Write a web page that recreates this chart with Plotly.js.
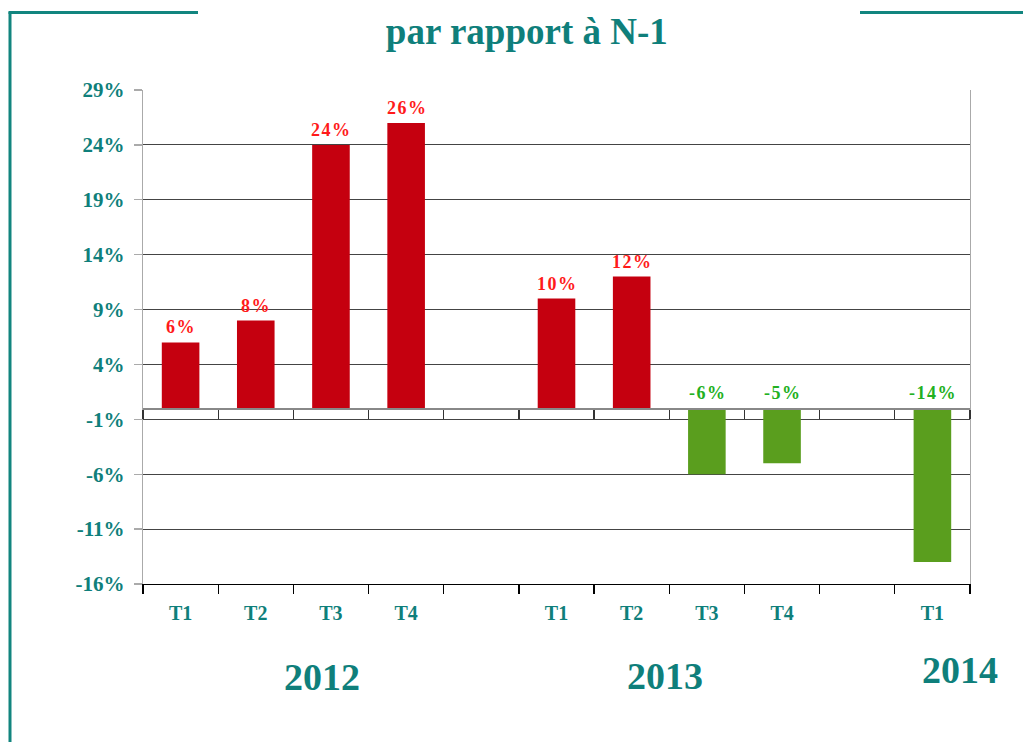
<!DOCTYPE html>
<html>
<head>
<meta charset="utf-8">
<script src="https://cdn.plot.ly/plotly-3.0.1.min.js"></script>
<style>html,body{margin:0;padding:0;background:#fff;}#chart{width:1023px;height:742px;}</style>
</head>
<body>
<div id="chart"></div>
<script>
// ---- data ----
const slots = [0, 1, 2, 3, 5, 6, 7, 8, 10];
const quarterLabels = ["T1", "T2", "T3", "T4", "T1", "T2", "T3", "T4", "T1"];
const values = [6, 8, 24, 26, 10, 12, -6, -5, -14];
const years = ["2012", "2013", "2014"];
const yTicks = [-16, -11, -6, -1, 4, 9, 14, 19, 24, 29];
const yTickText = yTicks.map(v => v + "%");

const teal = "#0f7f7b";
const serif = "Liberation Serif, Times New Roman, serif";

const barColors = values.map(v => v >= 0 ? "#c5000f" : "#5a9e1e");
const labelColors = values.map(v => v >= 0 ? "#ff1a1a" : "#22b022");
const labelY = values.map(v => Math.max(v, 0));
const labelText = values.map(v => (v + "%").split("").join("\u200A"));

const boundaries = [];
for (let i = -0.5; i <= 10.5; i += 1) boundaries.push(i);

// bars drawn on the axis that sits on the zero line (ticks at category boundaries)
const bars = {
  type: "bar", x: slots, y: values, width: 0.5, xaxis: "x3",
  marker: { color: barColors }, hoverinfo: "none", showlegend: false
};
// invisible carriers for the other two x axes
const carrierBottom = {
  type: "scatter", mode: "none", x: slots, y: labelY, xaxis: "x",
  hoverinfo: "none", showlegend: false
};
const carrierLabels = {
  type: "scatter", mode: "none", x: slots, y: labelY, xaxis: "x2",
  hoverinfo: "none", showlegend: false
};

const W = 827, H = 494, L = 143, T = 90;
const px = x => (x - L) / W;
const py = y => (T + H - y) / H;
const frameColor = "#12857f";

const valueAnnotations = slots.map((s, i) => ({
  x: s, y: labelY[i], xref: "x", yref: "y", text: "<b>" + labelText[i] + "</b>",
  showarrow: false, xanchor: "center", yanchor: "middle", yshift: 15,
  font: { family: serif, size: 18, color: labelColors[i] }
}));

const yearPos = [[322, 677], [665, 676], [960, 670]];
const yearAnnotations = years.map((yr, i) => ({
  text: "<b>" + yr + "</b>", x: px(yearPos[i][0]), y: py(yearPos[i][1]), xref: "paper", yref: "paper",
  showarrow: false, xanchor: "center", yanchor: "middle",
  font: { family: serif, size: 38, color: teal }
}));

const layout = {
  width: 1023, height: 742,
  margin: { l: 143, r: 53, t: 90, b: 158 },
  paper_bgcolor: "#fff", plot_bgcolor: "#fff",
  font: { family: serif },
  title: {
    text: "<b>par rapport à N-1</b>",
    font: { family: serif, size: 37, color: teal },
    x: 0.515, xanchor: "center", xref: "container",
    y: 1 - 31 / 742, yanchor: "middle", yref: "container"
  },
  xaxis: {
    range: [-0.5, 10.5], tickmode: "array", tickvals: boundaries,
    showticklabels: false, ticks: "outside", ticklen: 9, tickcolor: "#000", tickwidth: 1.3,
    showgrid: false, zeroline: false, showline: true, linecolor: "#000", linewidth: 1.3,
    fixedrange: true
  },
  xaxis2: {
    overlaying: "x", anchor: "y", side: "bottom", range: [-0.5, 10.5],
    tickmode: "array", tickvals: slots, ticktext: quarterLabels,
    ticks: "", ticklabelstandoff: 15,
    tickfont: { family: serif, size: 20, color: teal, weight: "bold" },
    showgrid: false, zeroline: false, showline: false
  },
  xaxis3: {
    overlaying: "x", anchor: "free", position: 16 / 45, side: "bottom", range: [-0.5, 10.5],
    tickmode: "array", tickvals: boundaries, showticklabels: false,
    ticks: "outside", ticklen: 9, tickcolor: "#333", tickwidth: 1.3,
    showgrid: false, zeroline: false, showline: true, linecolor: "#888", linewidth: 1.3
  },
  yaxis: {
    range: [-16, 29], tickmode: "array", tickvals: yTicks, ticktext: yTickText,
    ticks: "outside", ticklen: 8, tickcolor: "#aaa", tickwidth: 1.3, ticklabelstandoff: 5,
    tickfont: { family: serif, size: 21, color: teal, weight: "bold" },
    showgrid: true, gridcolor: "#444", gridwidth: 1.2,
    zeroline: false, showline: true, linecolor: "#aaa", linewidth: 1.3, mirror: true,
    fixedrange: true
  },
  annotations: valueAnnotations.concat(yearAnnotations),
  shapes: [
    { type: "line", xref: "paper", yref: "paper", x0: px(10), x1: px(10), y0: py(12), y1: py(745),
      line: { color: frameColor, width: 3 } },
    { type: "line", xref: "paper", yref: "paper", x0: px(8.5), x1: px(198), y0: py(12.5), y1: py(12.5),
      line: { color: frameColor, width: 3 } },
    { type: "line", xref: "paper", yref: "paper", x0: px(860), x1: px(1025), y0: py(12.5), y1: py(12.5),
      line: { color: frameColor, width: 3 } }
  ]
};

Plotly.newPlot("chart", [bars, carrierBottom, carrierLabels], layout, { staticPlot: true });
</script>
</body>
</html>
